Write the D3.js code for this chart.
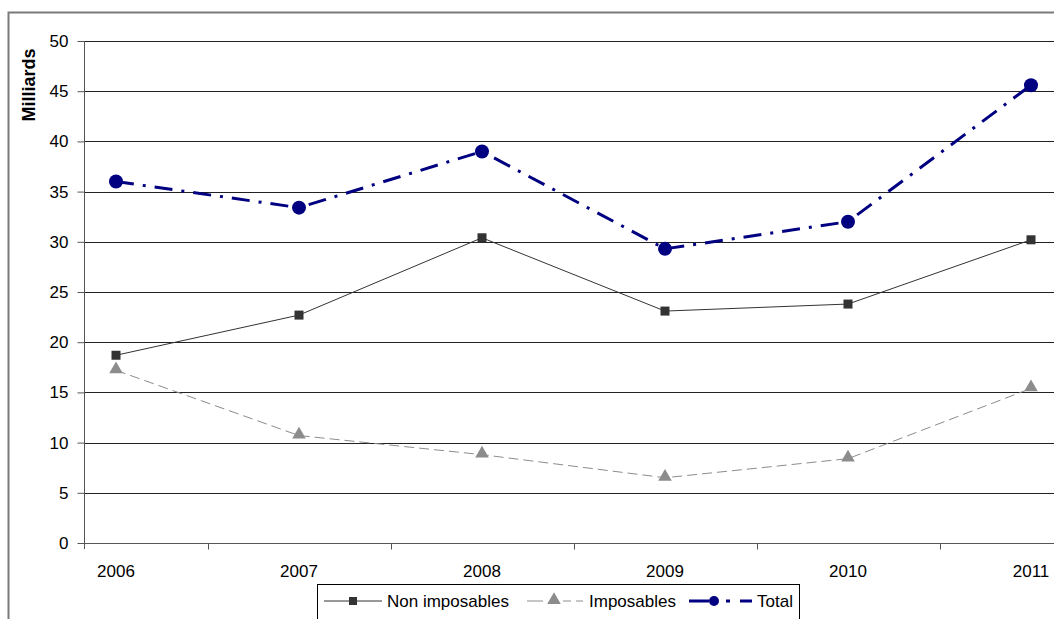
<!DOCTYPE html>
<html><head><meta charset="utf-8">
<script src="https://cdn.jsdelivr.net/npm/d3@7"></script>
<style>body{margin:0;background:#fff}svg{display:block}text{font-family:"Liberation Sans",Arial,sans-serif}</style>
</head><body>
<script>
const years = ["2006","2007","2008","2009","2010","2011"];
const nonImposables = [18.7, 22.7, 30.4, 23.1, 23.8, 30.2];
const imposables = [17.2, 10.7, 8.8, 6.5, 8.4, 15.4];
const total = [36.0, 33.4, 39.0, 29.3, 32.0, 45.6];
const yTicks = [0,5,10,15,20,25,30,35,40,45,50];
const seriesNames = ["Non imposables","Imposables","Total"];

(function(){
const W=1054,H=619;
const FS=17;
const svg=d3.select("body").append("svg").attr("width",W).attr("height",H);

// outer border
svg.append("path").attr("d","M8.5,619 V12.5 H1054").attr("fill","none").attr("stroke","#7a7a7a").attr("stroke-width",2);

const pL=84, pR=1054, pT=41, pB=543;
const x=d3.scalePoint().domain(years).range([116,1031]);
const y=d3.scaleLinear().domain([0,50]).range([pB,pT]);

// gridlines
svg.append("g").selectAll("line").data(yTicks.filter(d=>d>0)).join("line")
  .attr("x1",pL).attr("x2",pR).attr("y1",d=>Math.round(y(d))+0.5).attr("y2",d=>Math.round(y(d))+0.5)
  .attr("stroke","#222").attr("stroke-width",1);

// y axis
const ya=svg.append("g").attr("transform",`translate(${pL+0.5},0)`)
  .call(d3.axisLeft(y).tickValues(yTicks).tickSize(7).tickPadding(9).tickSizeOuter(0));
ya.select(".domain").attr("stroke","#555").attr("d",`M0,${pT}V${pB+6}`);
ya.selectAll(".tick line").attr("stroke","#555");
ya.selectAll("text").attr("font-size",FS).attr("fill","#000").style("font-family","Liberation Sans, Arial");

// x axis
const step=x.step();
const xa=svg.append("g").attr("transform",`translate(0,${pB+0.5})`);
xa.append("line").attr("x1",pL).attr("x2",pR).attr("stroke","#555");
xa.selectAll("line.t").data(years.slice(0,-1)).join("line").attr("class","t")
  .attr("x1",d=>Math.round(x(d)+step/2)+0.5).attr("x2",d=>Math.round(x(d)+step/2)+0.5).attr("y1",0).attr("y2",6).attr("stroke","#555");
xa.selectAll("text").data(years).join("text").attr("x",d=>x(d)).attr("y",33)
  .attr("text-anchor","middle").attr("font-size",FS).text(d=>d);

// y title
svg.append("text").attr("transform","translate(35,85) rotate(-90)").attr("text-anchor","middle")
  .attr("font-size",18).attr("font-weight","bold").text("Milliards");

const line=d3.line().x((d,i)=>x(years[i])).y(d=>y(d));

// Imposables
svg.append("path").datum(imposables).attr("d",line).attr("fill","none").attr("stroke","#8c8c8c").attr("stroke-width",1).attr("stroke-dasharray","10,5");
const tri=d3.symbol().type(d3.symbolTriangle).size(80);
svg.append("g").selectAll("path").data(imposables).join("path").attr("d",tri)
  .attr("transform",(d,i)=>`translate(${x(years[i])},${y(d)-1})`).attr("fill","#8c8c8c");

// Non imposables
svg.append("path").datum(nonImposables).attr("d",line).attr("fill","none").attr("stroke","#333").attr("stroke-width",1);
svg.append("g").selectAll("rect").data(nonImposables).join("rect")
  .attr("x",(d,i)=>x(years[i])-4.5).attr("y",d=>y(d)-4.5).attr("width",9).attr("height",9).attr("fill","#333");

// Total
svg.append("path").datum(total).attr("d",line).attr("fill","none").attr("stroke","#000080").attr("stroke-width",3).attr("stroke-dasharray","18,9,3,9");
svg.append("g").selectAll("circle").data(total).join("circle")
  .attr("cx",(d,i)=>x(years[i])).attr("cy",d=>y(d)).attr("r",7).attr("fill","#000080");

// legend
const lg=svg.append("g");
lg.append("rect").attr("x",317.5).attr("y",584.5).attr("width",482).attr("height",50).attr("fill","#fff").attr("stroke","#000");
const ly=601;
lg.append("line").attr("x1",324).attr("x2",382).attr("y1",ly).attr("y2",ly).attr("stroke","#333");
lg.append("rect").attr("x",349).attr("y",ly-4).attr("width",8).attr("height",8).attr("fill","#333");
lg.append("text").attr("x",387).attr("y",ly+6).attr("font-size",FS).text(seriesNames[0]);
lg.append("line").attr("x1",527).attr("x2",583).attr("y1",ly).attr("y2",ly).attr("stroke","#8c8c8c").attr("stroke-dasharray","16,7,5,8,8,5");
lg.append("path").attr("d",tri).attr("transform",`translate(554,${ly-1})`).attr("fill","#8c8c8c");
lg.append("text").attr("x",589).attr("y",ly+6).attr("font-size",FS).text(seriesNames[1]);
lg.append("line").attr("x1",689).attr("x2",752).attr("y1",ly).attr("y2",ly).attr("stroke","#000080").attr("stroke-width",3).attr("stroke-dasharray","20,17,4,10,12");
lg.append("circle").attr("cx",714).attr("cy",ly).attr("r",5).attr("fill","#000080");
lg.append("text").attr("x",757).attr("y",ly+6).attr("font-size",FS).text(seriesNames[2]);
})();
</script>
</body></html>
